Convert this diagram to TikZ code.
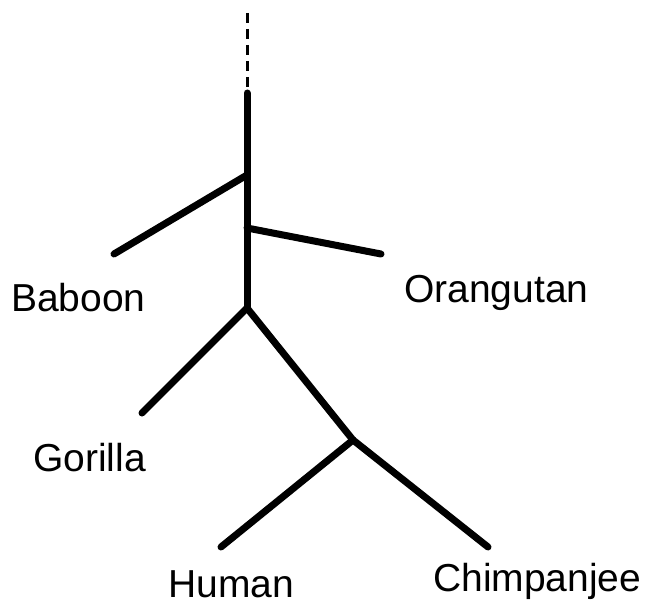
\documentclass[tikz,border=0pt]{standalone}
\usepackage{fontspec}
\setmainfont{Liberation Sans}
\begin{document}
\begin{tikzpicture}[x=1pt,y=-1pt,
  branch/.style={line width=7pt,line cap=round,line join=round},
  stem/.style={line width=3pt,dash pattern=on 10pt off 6pt},
  lbl/.style={anchor=base west,inner sep=0pt,font=\fontsize{39}{47}\selectfont}]
\useasboundingbox (0,0) rectangle (649,602);
\coordinate (top) at (247,13);
\coordinate (root) at (247,93);
\coordinate (jb) at (247,175);
\coordinate (jo) at (247,228);
\coordinate (jg) at (247,308);
\coordinate (jhc) at (353,440);
\coordinate (bab) at (114,254);
\coordinate (ora) at (381,254);
\coordinate (gor) at (142,413);
\coordinate (hum) at (221,547);
\coordinate (chi) at (488,547);
\draw[stem] (top) -- (247,88);
\draw[branch] (root) -- (jg);
\draw[branch] (jb) -- (bab);
\draw[branch] (jo) -- (ora);
\draw[branch] (jg) -- (gor);
\draw[branch] (jg) -- (jhc);
\draw[branch] (jhc) -- (hum);
\draw[branch] (jhc) -- (chi);
\node[lbl] (tbab) at (11,311) {Baboon};
\node[lbl] (tora) at (404,302) {Orangutan};
\node[lbl] (tgor) at (33,471) {Gorilla};
\node[lbl] (thum) at (168,597) {Human};
\node[lbl] (tchi) at (433,591) {Chimpanjee};
\end{tikzpicture}
\end{document}
